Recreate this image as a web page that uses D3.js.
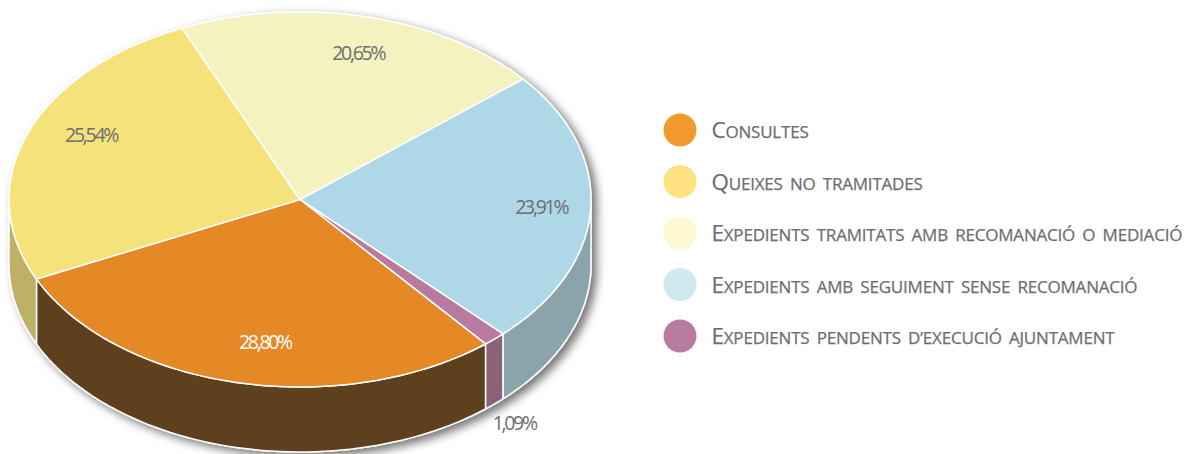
<!DOCTYPE html>
<html>
<head>
<meta charset="utf-8">
<script src="https://cdn.jsdelivr.net/npm/d3@7"></script>
<style>
  html, body { margin: 0; padding: 0; background: #fff; }
  svg { display: block; }
  text { font-family: "Open Sans", "Lato", sans-serif; }
  .low { text-transform: uppercase; font-size: 17px; }
</style>
</head>
<body>
<div id="chart"></div>
<script>
// slices in clockwise order, beginning with the one at the upper right
const categories = ["Expedients amb seguiment sense recomanació", "Expedients pendents d’execució ajuntament", "Consultes", "Queixes no tramitades", "Expedients tramitats amb recomanació o mediació"];
// share each slice really takes in the drawing, a bit off the printed numbers
const values = [23.83, 1.28, 29.03, 25.33, 20.53];
const valueLabels = ["23,91%", "1,09%", "28,80%", "25,54%", "20,65%"];
const legendOrder = ["Consultes", "Queixes no tramitades", "Expedients tramitats amb recomanació o mediació", "Expedients amb seguiment sense recomanació", "Expedients pendents d’execució ajuntament"];

const topColors = ["#aed7e8", "#b87a9e", "#e58825", "#f5e27a", "#f4f2be"];
const sideColors = ["#8ba4ab", "#8a6378", "#5e401e", "#bdb168", "#bdb168"];
const legendColors = ["#f39a2e", "#fee282", "#fff7d1", "#cde9ee", "#b87a9e"];
const labelColors = ["#6d6e71", "#6d6e71", "#ffffff", "#6d6e71", "#6d6e71"];

const width = 1187, height = 454;
const depth = 65;
const startDeg = 50;
// angle (deg, clockwise from top) and radius (share of the ellipse) of each label
const labelPolar = [[92.8, 0.83], [138, 1.10], [189, 0.77], [295.6, 0.796], [374.4, 0.805]];

const svg = d3.select("#chart").append("svg")
    .attr("width", width)
    .attr("height", height);

const defs = svg.append("defs");
const shadow = defs.append("filter").attr("id", "shadow")
    .attr("x", "-5%").attr("y", "-5%").attr("width", "110%").attr("height", "110%");
shadow.append("feDropShadow")
    .attr("dx", 5).attr("dy", 4).attr("stdDeviation", 5)
    .attr("flood-color", "#000").attr("flood-opacity", 0.55);

// unit circle to the flattened pie
const px = d3.scaleLinear().domain([-1, 1]).range([9, 591]);
const py = d3.scaleLinear().domain([-1, 1]).range([12, 387]);

const pie = d3.pie().sort(null).value(d => d)
    .startAngle(startDeg * Math.PI / 180)
    .endAngle((startDeg + 360) * Math.PI / 180);
const slices = pie(values);

function rimAngles(a0, a1) {
  return d3.range(0, 61).map(i => a0 + (a1 - a0) * i / 60);
}
const line = d3.line().x(d => d[0]).y(d => d[1]);
function rimPoint(a, r, dy) {
  return [px(r * Math.sin(a)), py(-r * Math.cos(a)) + dy];
}

const g = svg.append("g").attr("filter", "url(#shadow)");

// side walls, only the part of each slice facing the viewer
const sideMin = Math.PI / 2, sideMax = Math.PI * 1.5;
slices.forEach((s, i) => {
  const a0 = Math.max(s.startAngle, sideMin), a1 = Math.min(s.endAngle, sideMax);
  if (a1 <= a0) return;
  const top = rimAngles(a0, a1).map(a => rimPoint(a, 1, 0));
  const bottom = rimAngles(a1, a0).map(a => rimPoint(a, 1, depth));
  g.append("path")
      .attr("d", line(top.concat(bottom)) + "Z")
      .attr("fill", sideColors[i])
      .attr("stroke", "#fff")
      .attr("stroke-width", 1.5)
      .attr("stroke-linejoin", "round");
});

// top face
slices.forEach((s, i) => {
  const rim = rimAngles(s.startAngle, s.endAngle).map(a => rimPoint(a, 1, 0));
  g.append("path")
      .attr("d", line([rimPoint(0, 0, 0)].concat(rim)) + "Z")
      .attr("fill", topColors[i])
      .attr("stroke", "#fff")
      .attr("stroke-width", 1.5)
      .attr("stroke-linejoin", "round");
});

// value labels, the small slice keeps its label below the wall
valueLabels.forEach((t, i) => {
  const a = labelPolar[i][0] * Math.PI / 180;
  const p = rimPoint(a, labelPolar[i][1], i === 1 ? depth + 5 : 0);
  svg.append("text")
      .attr("x", p[0])
      .attr("y", p[1])
      .attr("dy", "0.35em")
      .attr("text-anchor", "middle")
      .attr("font-size", 19.5)
      .attr("letter-spacing", -2.3)
      .attr("fill", labelColors[i])
      .text(t);
});

// legend
const legendY = d3.scalePoint().domain(legendOrder).range([130, 336]);
const legend = svg.append("g").selectAll("g")
    .data(legendOrder)
    .enter()
    .append("g")
    .attr("transform", d => "translate(680," + legendY(d) + ")");

legend.append("circle")
    .attr("r", 16.5)
    .attr("fill", (d, i) => legendColors[i]);

// small caps by hand, the synthesized ones come out too small
const legendText = legend.append("text")
    .attr("x", 31.5)
    .attr("y", 8)
    .attr("font-size", 22.4)
    .attr("letter-spacing", -0.2)
    .attr("word-spacing", 3)
    .attr("fill", "#6d6e71")
    .attr("stroke", "#6d6e71")
    .attr("stroke-width", 0.25);
legendText.append("tspan").text(d => d.slice(0, 1));
legendText.append("tspan").attr("class", "low").text(d => d.slice(1));
</script>
</body>
</html>
